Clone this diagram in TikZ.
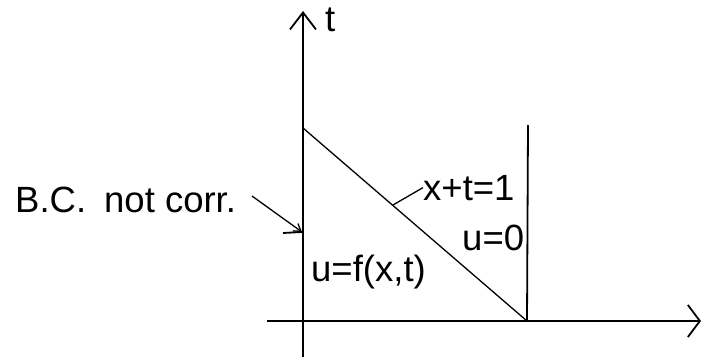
\documentclass[tikz,border=0pt]{standalone}
\usepackage{fontspec}
\setmainfont{Liberation Sans}
\usetikzlibrary{arrows.meta, positioning}

\begin{document}
\begin{tikzpicture}[x=1pt, y=-1pt,
    axis/.style={line width=1.8pt},
    thin line/.style={line width=1.3pt},
    lbl/.style={font=\fontsize{36.5}{40}\selectfont, inner sep=0pt, anchor=base west}]
  \useasboundingbox (0,0) rectangle (703,359);
  % corner points
  \coordinate (O) at (303,321);
  \coordinate (xend) at (701,321);
  \coordinate (xstart) at (267,321);
  \coordinate (tend) at (303,11);
  \coordinate (tstart) at (303,357);
  \coordinate (A) at (303,128);
  \coordinate (B) at (527,321);
  \coordinate (Btop) at (528,125);
  % axes
  \draw[axis, -{Straight Barb[length=12pt, width=32pt]}] (xstart) -- (xend);
  \draw[axis, -{Straight Barb[length=17pt, width=26pt]}] (tstart) -- (tend);
  \node[lbl] (tlabel) at (325,31) {t};
  % characteristic and right boundary
  \draw[thin line] (A) -- (B);
  \draw[axis] (B) -- (Btop);
  % labels
  \node[lbl] (bc) at (15,212) {B.C.\hspace{18pt}not corr.};
  \node[lbl] (xt) at (423,200) {x+t=1};
  \node[lbl] (uzero) at (462,250) {u=0};
  \node[lbl] (uf) at (311,281) {u=f(x,t)};
  % pointers
  \coordinate (bcfrom) at (252,196);
  \coordinate (bcto) at (302,232);
  \coordinate (tick) at (283,233);
  \coordinate (xtfoot) at (393,205);
  \draw[thin line, -{Straight Barb[length=7pt, width=9pt]}] (bcfrom) -- (bcto);
  \draw[axis] (tick) -- (bcto);
  \draw[thin line] (xtfoot) -- (xt.west);
\end{tikzpicture}
\end{document}
